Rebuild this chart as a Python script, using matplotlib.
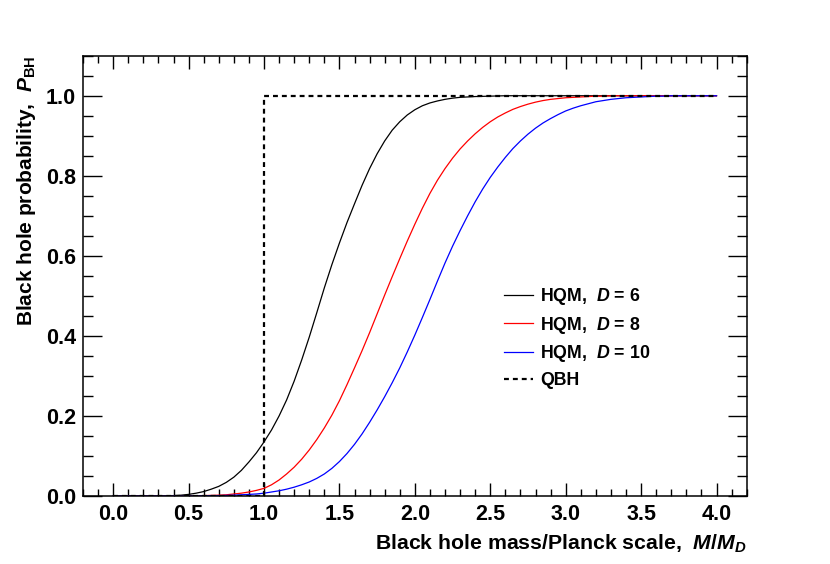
import matplotlib
matplotlib.use("Agg")
from matplotlib import pyplot as plt
from matplotlib.ticker import MultipleLocator, FormatStrFormatter

# black hole mass in units of the Planck scale
mass = [0.0, 0.05, 0.1, 0.15, 0.2, 0.25, 0.3, 0.35, 0.4, 0.45,
        0.5, 0.55, 0.6, 0.65, 0.7, 0.75, 0.8, 0.85, 0.9, 0.95,
        1.0, 1.05, 1.1, 1.15, 1.2, 1.25, 1.3, 1.35, 1.4, 1.45,
        1.5, 1.55, 1.6, 1.65, 1.7, 1.75, 1.8, 1.85, 1.9, 1.95,
        2.0, 2.05, 2.1, 2.15, 2.2, 2.25, 2.3, 2.35, 2.4, 2.45,
        2.5, 2.55, 2.6, 2.65, 2.7, 2.75, 2.8, 2.85, 2.9, 2.95,
        3.0, 3.05, 3.1, 3.15, 3.2, 3.25, 3.3, 3.35, 3.4, 3.45,
        3.5, 3.55, 3.6, 3.65, 3.7, 3.75, 3.8, 3.85, 3.9, 3.95,
        4.0]

# HQM probabilities
p_d6 = [0, 0, 0, 0, 0, 0, 0, 0.0005, 0.001, 0.002,
        0.004, 0.007, 0.011, 0.017, 0.024, 0.034, 0.047, 0.064, 0.085, 0.108,
        0.135, 0.165, 0.200, 0.240, 0.287, 0.340, 0.397, 0.458, 0.520, 0.578,
        0.632, 0.683, 0.730, 0.776, 0.818, 0.855, 0.887, 0.914, 0.935, 0.952,
        0.965, 0.975, 0.982, 0.987, 0.991, 0.994, 0.996, 0.997, 0.998, 0.9985,
        0.999, 0.9995, 1, 1, 1, 1, 1, 1, 1, 1,
        1, 1, 1, 1, 1, 1, 1, 1, 1, 1,
        1, 1, 1, 1, 1, 1, 1, 1, 1, 1,
        1]
p_d8 = [0, 0, 0, 0, 0, 0, 0, 0, 0, 0,
        0, 0.0005, 0.001, 0.0015, 0.002, 0.003, 0.005, 0.007, 0.010, 0.014,
        0.019, 0.028, 0.040, 0.055, 0.072, 0.092, 0.115, 0.141, 0.170, 0.202,
        0.238, 0.278, 0.320, 0.363, 0.408, 0.455, 0.502, 0.548, 0.593, 0.637,
        0.679, 0.719, 0.756, 0.789, 0.818, 0.844, 0.867, 0.887, 0.905, 0.921,
        0.935, 0.947, 0.957, 0.966, 0.973, 0.979, 0.984, 0.988, 0.991, 0.993,
        0.995, 0.996, 0.997, 0.998, 0.999, 0.999, 1, 1, 1, 1,
        1, 1, 1, 1, 1, 1, 1, 1, 1, 1,
        1]
p_d10 = [0, 0, 0, 0, 0, 0, 0, 0, 0, 0,
         0, 0, 0.0005, 0.001, 0.001, 0.0015, 0.002, 0.003, 0.004, 0.005,
         0.007, 0.010, 0.013, 0.017, 0.022, 0.028, 0.035, 0.044, 0.055, 0.069,
         0.086, 0.106, 0.129, 0.155, 0.184, 0.215, 0.248, 0.283, 0.320, 0.360,
         0.402, 0.446, 0.491, 0.537, 0.582, 0.624, 0.663, 0.700, 0.735, 0.767,
         0.796, 0.822, 0.846, 0.868, 0.887, 0.904, 0.919, 0.932, 0.943, 0.953,
         0.962, 0.969, 0.975, 0.980, 0.985, 0.988, 0.991, 0.993, 0.995, 0.996,
         0.997, 0.998, 0.999, 0.999, 1, 1, 1, 1, 1, 1,
         1]

# QBH: step at M = M_D
qbh_mass = [0.0, 1.0, 4.0]
qbh_prob = [0.0, 1.0, 1.0]

plt.rcParams['font.family'] = ['Liberation Sans', 'DejaVu Sans']
plt.rcParams['font.weight'] = 'bold'
plt.rcParams['mathtext.fontset'] = 'custom'
plt.rcParams['mathtext.rm'] = 'Liberation Sans:bold'
plt.rcParams['mathtext.it'] = 'Liberation Sans:italic:bold'
plt.rcParams['mathtext.bf'] = 'Liberation Sans:bold'

fig = plt.figure(figsize=(8.3, 5.64), dpi=100)
ax = fig.add_axes([0.1, 0.1206, 0.7996, 0.7806])

ax.plot(mass, p_d6, color="black", lw=0.9, label=r"HQM,  $\mathit{D}$ = 6")
ax.plot(mass, p_d8, color="red", lw=0.9, label=r"HQM,  $\mathit{D}$ = 8")
ax.plot(mass, p_d10, color="blue", lw=0.9, label=r"HQM,  $\mathit{D}$ = 10")
ax.plot(qbh_mass, qbh_prob, color="black", lw=1.6, drawstyle="steps-post",
        dashes=(2.2, 1.8), label="QBH")

ax.set_xlim(-0.2, 4.2)
ax.set_ylim(0, 1.1)
ax.xaxis.set_major_locator(MultipleLocator(0.5))
ax.xaxis.set_minor_locator(MultipleLocator(0.1))
ax.yaxis.set_major_locator(MultipleLocator(0.2))
ax.yaxis.set_minor_locator(MultipleLocator(0.05))
ax.xaxis.set_major_formatter(FormatStrFormatter("%.1f"))
ax.yaxis.set_major_formatter(FormatStrFormatter("%.1f"))

ax.tick_params(which="both", direction="in", top=True, right=True, width=1.0,
               labelsize=15.5)
ax.tick_params(axis="x", which="major", length=9.4, pad=6)
ax.tick_params(axis="x", which="minor", length=5)
ax.tick_params(axis="y", which="major", length=14, pad=5)
ax.tick_params(axis="y", which="minor", length=7)
for s in ax.spines.values():
    s.set_linewidth(1.1)

ax.set_xlabel(r"Black hole mass/Planck scale,  $\mathit{M/M}_{\mathit{D}}$",
              fontsize=15.3, fontweight="bold", ha="right", x=1.0, labelpad=5)
ax.set_ylabel(r"Black hole probability,  $\mathit{P}_{\rm BH}$",
              fontsize=15, fontweight="bold", ha="right", y=1.0, labelpad=6)

fig.legend(loc="upper left", bbox_to_anchor=(504 / 830, 1 - 286 / 564),
           frameon=False, fontsize=12.8, handlelength=1.65, handletextpad=0.38,
           labelspacing=0.43, borderpad=0, borderaxespad=0)

fig.savefig("out.png", dpi=100)
